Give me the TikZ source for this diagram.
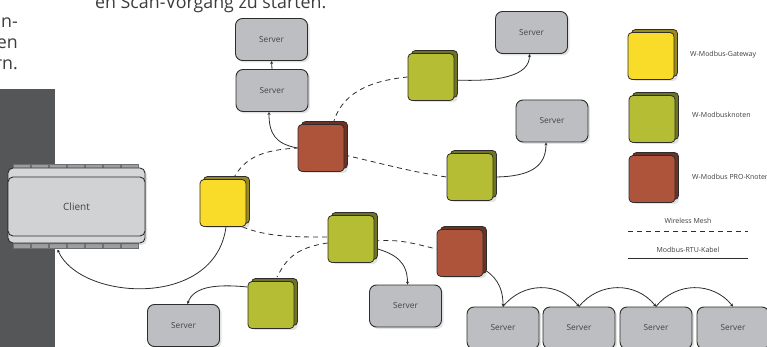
\documentclass[tikz,border=0pt]{standalone}
\usepackage{fontspec}
\setmainfont{Open Sans}
\usetikzlibrary{shadows,backgrounds,arrows.meta}
\definecolor{linec}{HTML}{2D2D2D}
\definecolor{srvfill}{HTML}{BDBEC1}
\definecolor{txtc}{HTML}{444444}
\definecolor{ptxt}{HTML}{3C3C3C}
\definecolor{barc}{HTML}{555658}
\definecolor{gwf}{HTML}{F9DC29}
\definecolor{gwb}{HTML}{9A8A1E}
\definecolor{knf}{HTML}{B5BD34}
\definecolor{knb}{HTML}{6F7420}
\definecolor{prf}{HTML}{AE543A}
\definecolor{prb}{HTML}{6E3224}
\definecolor{clo}{HTML}{D6D7D9}
\definecolor{cli}{HTML}{D1D2D4}
\definecolor{tabc}{HTML}{9D9EA0}
\tikzset{
  srv/.style={rectangle, rounded corners=7pt, draw=linec, line width=0.9pt, fill=srvfill,
    minimum width=72pt, minimum height=42pt, font=\fontsize{8.3}{9}\selectfont, text=txtc,
    drop shadow={opacity=0.22, shadow xshift=2pt, shadow yshift=-2pt}},
  mb/.style 2 args={rectangle, rounded corners=4pt, draw=linec, line width=0.8pt, fill=#1,
    minimum width=46pt, minimum height=47pt,
    drop shadow={opacity=0.22, shadow xshift=3.5pt, shadow yshift=-1.5pt},
    general shadow={fill=#2, draw=linec, line width=0.8pt, shadow xshift=3.5pt, shadow yshift=3pt}},
  gwnode/.style={mb={gwf}{gwb}},
  knnode/.style={mb={knf}{knb}},
  prnode/.style={mb={prf}{prb}},
  conn/.style={draw=linec, line width=0.8pt, -{Stealth[length=3pt,width=3pt]}},
  mesh/.style={draw=linec, line width=0.8pt, dash pattern=on 5pt off 4pt},
  cable/.style={draw=linec, line width=0.8pt},
  lgtxt/.style={font=\fontsize{7}{8}\selectfont, text=txtc!90!black, inner sep=0pt},
  para/.style={font=\fontsize{17.8}{20}\selectfont, text=ptxt, inner sep=0pt},
  tabbox/.style={fill=tabc, draw=tabc!70!black, line width=0.3pt},
}
\begin{document}
\begin{tikzpicture}[x=1pt,y=-1pt]
\useasboundingbox (0,0) rectangle (767,347);
\clip (0,0) rectangle (767,347);
\begin{pgfonlayer}{background}
  \fill[barc] (0,89) rectangle (55,347);
\end{pgfonlayer}

% paragraph text
\node[para, anchor=base west] (t0) at (95,9) {en Scan-Vorgang zu starten.};
\node[para, anchor=base east] (t1) at (18,28) {un-};
\node[para, anchor=base east] (t2) at (18,49) {en};
\node[para, anchor=base east] (t3) at (18,70) {rn.};

% client
\foreach \i in {0,...,6} {
  \draw[tabbox] ({13+\i*18},164) rectangle ++(17.5,5);
  \draw[tabbox] ({13+\i*18},243) rectangle ++(17.5,5);
}
\node[rectangle, rounded corners=5pt, draw=linec, line width=0.9pt, fill=clo,
  minimum width=137pt, minimum height=75pt,
  drop shadow={opacity=0.22, shadow xshift=2pt, shadow yshift=-2pt}] (cl) at (76.5,205.5) {};
\node[rectangle, rounded corners=5pt, draw=linec, line width=0.9pt, fill=cli,
  minimum width=137pt, minimum height=59pt, font=\fontsize{10}{12}\selectfont, text=txtc] (cli) at (76.5,206.5) {Client};

% modbus nodes
\node[gwnode] (yl) at (223,203) {};
\node[prnode] (br1) at (321,148) {};
\node[knnode] (gt) at (431,77) {};
\node[knnode] (gr) at (470,177) {};
\node[knnode] (gm) at (351,239) {};
\node[knnode] (gll) at (271,305) {};
\node[prnode] (br2) at (460,253) {};

% servers
\node[srv] (s1) at (271.5,39.5) {Server};
\node[srv] (s2) at (272,90.5) {Server};
\node[srv] (s3) at (531.5,32.5) {Server};
\node[srv] (s4) at (552,121) {Server};
\node[srv] (s5) at (405.5,306) {Server};
\node[srv] (s6) at (183.5,325.5) {Server};
\node[srv] (bs1) at (503,328) {Server};
\node[srv] (bs2) at (579,328) {Server};
\node[srv] (bs3) at (656,328) {Server};
\node[srv] (bs4) at (733,328) {Server};

% legend
\node[gwnode] (lg1) at (651,56) {};
\node[knnode] (lg2) at (652,119) {};
\node[prnode] (lg3) at (652,179) {};
\node[lgtxt, anchor=west] (lt1) at (690,55) {W-Modbus-Gateway};
\node[lgtxt, anchor=west] (lt2) at (692,115) {W-Modbusknoten};
\node[lgtxt, anchor=west] (lt3) at (692,177) {W-Modbus PRO-Knoten};
\node[lgtxt] (lt4) at (688,221) {Wireless Mesh};
\node[lgtxt] (lt5) at (688,250) {Modbus-RTU-Kabel};
\coordinate (m1) at (628,231);
\coordinate (m2) at (748,231);
\coordinate (k1) at (628,258);
\coordinate (k2) at (748,258);
\draw[mesh] (m1) -- (m2);
\draw[cable] (k1) -- (k2);

\begin{pgfonlayer}{background}
  % cables
  \draw[conn] (s2.north) -- (s1.south);
  \draw[conn] (br1.west) .. controls +(-22,-4) and +(0,22) .. ([xshift=-3pt]s2.south);
  \draw[conn] ([yshift=-3pt]gt.east) .. controls +(45,2) and +(0,22) .. ([xshift=-2pt]s3.south);
  \draw[conn] (gr.east) .. controls +(40,0) and +(0,22) .. ([xshift=-6pt]s4.south);
  \draw[conn] ([xshift=3pt]yl.south) .. controls +(-11,83) and +(22,51) .. ([xshift=50pt,yshift=-6pt]cl.south west);
  \draw[conn] ([yshift=-9pt]gm.east) .. controls +(22,6) and +(0,-22) .. ([xshift=2pt]s5.north);
  \draw[conn] ([yshift=18pt]gll.west) .. controls +(-30,-3) and +(6,-18) .. ([xshift=4pt]s6.north);
  \draw[conn] ([yshift=-16pt]br2.east) .. controls +(10,6) and +(0,-22) .. (bs1.north);
  \draw[conn] (bs1.north) .. controls +(20,-25) and +(-20,-25) .. (bs2.north);
  \draw[conn] (bs2.north) .. controls +(20,-25) and +(-20,-25) .. (bs3.north);
  \draw[conn] (bs3.north) .. controls +(20,-25) and +(-20,-25) .. (bs4.north);
  % wireless mesh
  \draw[mesh] ([xshift=12pt]br1.north) .. controls +(8,-30) and +(-40,4) .. (gt.west);
  \draw[mesh] ([xshift=10pt]yl.north) .. controls +(12,-22) and +(-35,2) .. (br1.west);
  \draw[mesh] ([yshift=-7pt]br1.east) .. controls +(35,8) and +(-35,-5) .. (gr.west);
  \draw[mesh] ([xshift=-4pt]yl.south east) .. controls +(25,10) and +(-35,0) .. ([yshift=2pt]gm.west);
  \draw[mesh] ([yshift=-4pt]gm.west) .. controls +(-35,5) and +(8,-15) .. ([xshift=6pt,yshift=4pt]gll.north);
  \draw[mesh] ([yshift=-2pt]gm.east) .. controls +(25,-2) and +(-25,-6) .. ([yshift=4pt]br2.west);
\end{pgfonlayer}
\end{tikzpicture}
\end{document}
